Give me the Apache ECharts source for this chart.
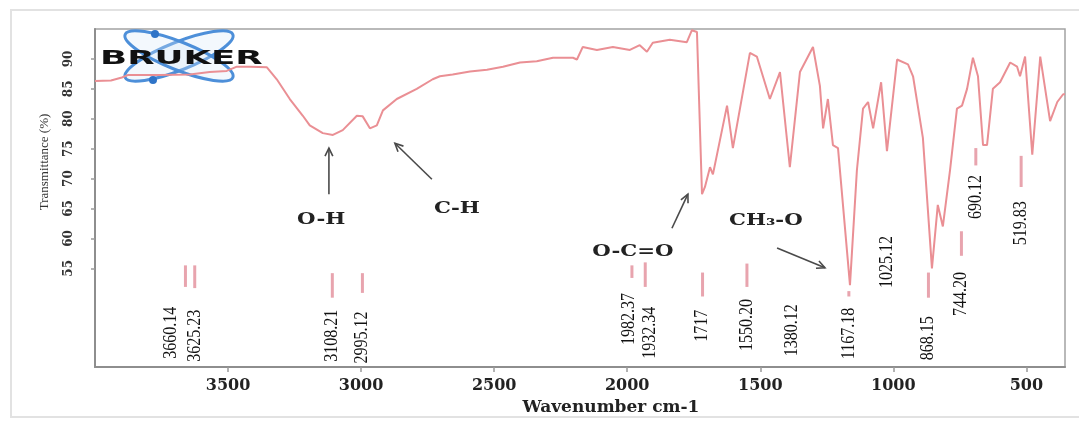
<!DOCTYPE html>
<html>
<head>
<meta charset="utf-8">
<script src="https://cdn.jsdelivr.net/npm/echarts@6/dist/echarts.min.js"></script>
<style>
  html, body { margin: 0; padding: 0; background: #fff; }
  #chart { width: 1079px; height: 421px; }
</style>
</head>
<body>
<div id="chart"></div>
<script>
// FT-IR spectrum: wavenumber (cm-1) against transmittance (%)
const wavenumbers = [
  4000, 3940, 3899, 3877, 3757, 3644, 3569, 3505, 3467, 3418, 3354, 3317, 3268, 3219, 3193,
  3144, 3106, 3069, 3016, 2994, 2967, 2941, 2918, 2866, 2791, 2731, 2704, 2656, 2591, 2527,
  2467, 2403, 2340, 2279, 2204, 2189, 2167, 2114, 2054, 1990, 1953, 1926, 1904, 1840, 1776,
  1757, 1738, 1719, 1708, 1689, 1678, 1625, 1603, 1539, 1513, 1464, 1426, 1389, 1351, 1302,
  1276, 1264, 1246, 1227, 1208, 1163, 1137, 1114, 1095, 1076, 1046, 1024, 986, 945, 926,
  889, 855, 833, 814, 787, 761, 742, 723, 701, 682, 663, 648, 626, 599, 561,
  535, 524, 505, 478, 448, 411, 384, 362, 355
];
const transmittance = [
  86.3, 86.4, 86.9, 87.3, 87.3, 87.4, 87.8, 88.0, 88.7, 88.7, 88.6, 86.6, 83.3, 80.5, 78.9,
  77.6, 77.3, 78.1, 80.5, 80.4, 78.4, 78.9, 81.4, 83.3, 85.0, 86.6, 87.1, 87.4, 87.9, 88.2,
  88.7, 89.4, 89.6, 90.2, 90.2, 89.9, 92.0, 91.5, 92.0, 91.5, 92.3, 91.2, 92.7, 93.2, 92.8,
  94.8, 94.5, 67.4, 68.6, 71.9, 70.7, 82.2, 75.1, 91.0, 90.4, 83.3, 87.8, 71.9, 87.8, 92.0,
  85.5, 78.4, 83.3, 75.6, 75.1, 52.2, 71.4, 81.7, 82.8, 78.4, 86.1, 74.6, 89.9, 89.1, 87.1,
  76.8, 55.0, 65.6, 62.0, 71.4, 81.7, 82.2, 85.0, 90.2, 87.1, 75.6, 75.6, 85.0, 86.1, 89.4,
  88.7, 87.1, 90.4, 74.0, 90.4, 79.6, 82.8, 84.1, 84.1
];

const xTickValues = [500, 1000, 1500, 2000, 2500, 3000, 3500];
const yTickValues = [55, 60, 65, 70, 75, 80, 85, 90];

// band positions written under the trace
const peakWavenumbers = [
  3660.14, 3625.23, 3108.21, 2995.12, 1982.37, 1932.34, 1717, 1550.20,
  1380.12, 1167.18, 1025.12, 868.15, 744.20, 690.12, 519.83
];
// per band label: leader top, leader bottom, text top (transmittance units), sideways nudge of the text (px)
const peakLabelLayout = [
  [55.5, 51.9, 48.6, -14], [55.5, 51.7, 48.1, 0], [54.2, 50.1, 48.1, 0], [54.2, 50.9, 47.8, 0],
  [55.5, 53.4, 50.9, -3], [56.0, 51.9, 48.6, 5], [54.3, 50.3, 48.1, 0], [55.8, 51.9, 49.9, 0],
  [null, null, 49.0, 0], [51.2, 50.3, 48.4, 0], [null, null, 60.4, 0], [54.3, 50.1, 47.0, 0],
  [61.2, 57.1, 54.4, 0], [75.1, 72.2, 70.6, 0], [73.8, 68.6, 66.2, 0]
];

// functional group captions with their arrows (tail, head, caption centre in axis units)
const bandNames = ['O-H', 'C-H', 'O-C=O', 'CH\u2083-O'];
const bandArrowLayout = [
  { tail: [3121, 67.4], head: [3121, 75.1], caption: [3150, 63.2] },
  { tail: [2734, 69.9], head: [2873, 75.9], caption: [2640, 65.0] },
  { tail: [1832, 61.7], head: [1772, 67.4], caption: [1979, 57.8] },
  { tail: [1437, 58.4], head: [1257, 55.1], caption: [1479, 63.0] }
];

const serifBold = "'DejaVu Serif', serif";
const traceColor = '#ea8f94';

function bandLabelText(w) {
  return Number.isInteger(w) ? String(w) : w.toFixed(2);
}

const chart = echarts.init(document.getElementById('chart'), null, { renderer: 'canvas' });

const option = {
  animation: false,
  backgroundColor: '#ffffff',
  grid: {
    left: 95, right: 14, top: 29, bottom: 48,
    show: true, borderColor: '#a3a3a3', borderWidth: 1.5
  },
  xAxis: {
    type: 'value', inverse: true, min: 355, max: 4000,
    name: 'Wavenumber cm-1', nameLocation: 'middle', nameGap: 28,
    nameTextStyle: { fontFamily: serifBold, fontWeight: 'bold', fontSize: 17, color: '#222', padding: [0, 0, 0, 62] },
    axisLine: { show: true, onZero: false, lineStyle: { color: '#8e8e8e', width: 2 } },
    axisTick: { show: true, length: 5, customValues: xTickValues, lineStyle: { color: '#9a9a9a', width: 1.5 } },
    axisLabel: { customValues: xTickValues, margin: 11, fontFamily: serifBold, fontWeight: 'bold', fontSize: 16, color: '#222',
                 formatter: v => String(v) },
    splitLine: { show: false }
  },
  yAxis: {
    type: 'value', min: 38.5, max: 95,
    axisLine: { show: true, onZero: false, lineStyle: { color: '#8e8e8e', width: 2 } },
    axisTick: { show: true, length: 4, customValues: yTickValues, lineStyle: { color: '#9a9a9a', width: 1.5 } },
    axisLabel: { customValues: yTickValues, rotate: 90, margin: 20, fontFamily: serifBold, fontWeight: 'bold', fontSize: 12, color: '#333',
                 formatter: v => String(v) },
    splitLine: { show: false }
  },
  graphic: [
    // outer frame of the figure
    { type: 'rect', z: -10, shape: { x: 11, y: 10, width: 1090, height: 407 },
      style: { fill: 'none', stroke: '#e2e2e2', lineWidth: 2 } },
    { type: 'text', x: 45, y: 162, rotation: Math.PI / 2,
      style: { text: 'Transmittance (%)', font: "13px 'Liberation Serif', serif", fill: '#333', align: 'center', verticalAlign: 'middle' } },
    // instrument logo
    { type: 'group', z: 20, children: [
      { type: 'ellipse', x: 179, y: 56, rotation: 0.38, shape: { cx: 0, cy: 0, rx: 58, ry: 14 },
        style: { fill: 'rgba(214,232,250,0.3)', stroke: '#4d8fd9', lineWidth: 3 } },
      { type: 'ellipse', x: 179, y: 56, rotation: -0.38, shape: { cx: 0, cy: 0, rx: 58, ry: 14 },
        style: { fill: 'rgba(214,232,250,0.3)', stroke: '#4d8fd9', lineWidth: 3 } },
      { type: 'circle', shape: { cx: 155, cy: 34, r: 4 }, style: { fill: '#2f74c8' } },
      { type: 'circle', shape: { cx: 153, cy: 80, r: 4 }, style: { fill: '#2f74c8' } },
      { type: 'text', x: 100, y: 59, scaleX: 1.78,
        style: { text: 'BRUKER', font: "bold 20px 'DejaVu Sans', sans-serif", fill: '#111', verticalAlign: 'middle' } }
    ] }
  ],
  series: [
    {
      type: 'line', name: 'Transmittance',
      data: wavenumbers.map((w, i) => [w, transmittance[i]]),
      showSymbol: false, z: 3,
      lineStyle: { color: traceColor, width: 2 }
    },
    {
      type: 'custom', name: 'band labels', z: 4,
      data: peakWavenumbers.map((w, i) => [w, peakLabelLayout[i][2]]),
      renderItem(params, api) {
        const i = params.dataIndex;
        const [tTop, tBot, textTop, dx] = peakLabelLayout[i];
        const w = api.value(0);
        const x = api.coord([w, textTop])[0];
        const children = [];
        if (tTop != null) {
          const y1 = api.coord([w, tTop])[1];
          const y2 = api.coord([w, tBot])[1];
          children.push({ type: 'line', shape: { x1: x, y1: y1, x2: x, y2: y2 },
            style: { stroke: '#e8a4ae', lineWidth: 3 } });
        }
        const yt = api.coord([w, textTop])[1];
        children.push({ type: 'text', x: x + dx, y: yt, rotation: Math.PI / 2, scaleY: 1.15,
          style: { text: bandLabelText(w), font: "16px 'Liberation Serif', serif", fill: '#111',
                   align: 'right', verticalAlign: 'middle' } });
        return { type: 'group', children };
      }
    },
    {
      type: 'custom', name: 'band names', z: 5,
      data: bandArrowLayout.map(a => a.head),
      renderItem(params, api) {
        const a = bandArrowLayout[params.dataIndex];
        const p1 = api.coord(a.tail);
        const p2 = api.coord(a.head);
        const ang = Math.atan2(p2[1] - p1[1], p2[0] - p1[0]);
        const h = 9, s = 0.45;
        const head = [
          [p2[0] - h * Math.cos(ang - s), p2[1] - h * Math.sin(ang - s)],
          [p2[0], p2[1]],
          [p2[0] - h * Math.cos(ang + s), p2[1] - h * Math.sin(ang + s)]
        ];
        const c = api.coord(a.caption);
        return { type: 'group', children: [
          { type: 'line', shape: { x1: p1[0], y1: p1[1], x2: p2[0], y2: p2[1] },
            style: { stroke: '#4a4a4a', lineWidth: 1.6 } },
          { type: 'polyline', shape: { points: head },
            style: { stroke: '#4a4a4a', lineWidth: 1.6, fill: null } },
          { type: 'text', x: c[0], y: c[1], scaleX: 1.25,
            style: { text: bandNames[params.dataIndex], font: "bold 17px 'DejaVu Serif', serif", fill: '#222',
                     align: 'center', verticalAlign: 'middle' } }
        ] };
      }
    }
  ]
};

chart.setOption(option);
</script>
</body>
</html>
